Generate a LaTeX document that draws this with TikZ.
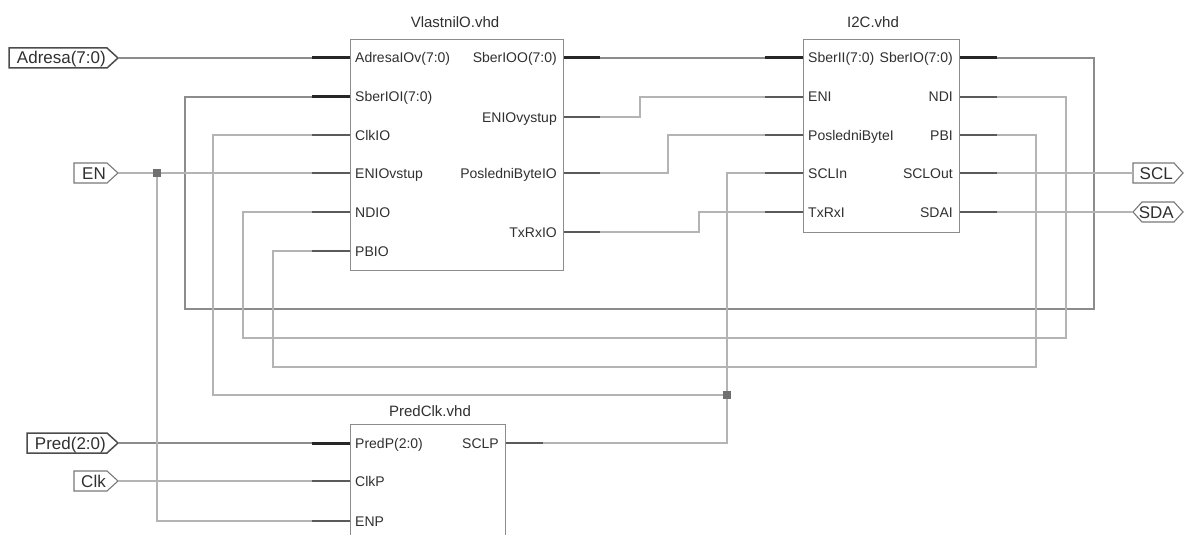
\documentclass[tikz,border=0pt]{standalone}
\usepackage{fontspec}
\setmainfont{Liberation Sans}
\definecolor{wirec}{HTML}{B4B4B4}
\definecolor{busc}{HTML}{8C8C8C}
\definecolor{stubc}{HTML}{5A5A5A}
\definecolor{blockc}{HTML}{8C8C8C}
\definecolor{txtc}{HTML}{303030}
\definecolor{juncc}{HTML}{707070}
\definecolor{portc}{HTML}{787878}
\tikzset{
  block/.style={draw=blockc, line width=1.2pt, fill=white, anchor=north west, inner sep=0pt},
  pinl/.style={font=\fontsize{14}{14}\selectfont, text=txtc, inner sep=0pt, anchor=base west},
  pinr/.style={font=\fontsize{14}{14}\selectfont, text=txtc, inner sep=0pt, anchor=base east},
  title/.style={font=\fontsize{15}{15}\selectfont, text=txtc, inner sep=0pt, anchor=base},
  porttxt/.style={font=\fontsize{17}{17}\selectfont, text=txtc, inner sep=0pt, anchor=base east},
  portline/.style={draw=portc, line width=1.1pt, line join=miter},
  busport/.style={draw=black!70, line width=1.5pt, line join=miter},
  wire/.style={draw=wirec, line width=1.1pt},
  bus/.style={draw=busc, line width=1.7pt},
  stub/.style={draw=stubc, line width=1.2pt},
  busstub/.style={draw=black!85, line width=3pt},
  junc/.style={rectangle, fill=juncc, minimum size=8pt, inner sep=0pt},
}
\begin{document}
\begin{tikzpicture}[x=1pt, y=-1pt]
\clip (0,0) rectangle (1184,535);
\fill[white] (0,0) rectangle (1184,535);

% ---------- blocks ----------
\node[block, minimum width=213pt, minimum height=231pt] (VIO) at (350,39) {};
\node[block, minimum width=156pt, minimum height=193pt] (I2C) at (803,39) {};
\node[block, minimum width=155pt, minimum height=140pt] (PRC) at (350,424) {};
\node[title] (tVIO) at (455,28) {VlastnilO.vhd};
\node[title] (tI2C) at (873,28) {I2C.vhd};
\node[title] (tPRC) at (430,416) {PredClk.vhd};

% ---------- pin coordinates (outer stub ends) ----------
\coordinate (a_adr) at (312,58);
\coordinate (a_sbi) at (312,97);
\coordinate (a_clk) at (312,135);
\coordinate (a_en)  at (312,173);
\coordinate (a_nd)  at (312,212);
\coordinate (a_pb)  at (312,251);
\coordinate (a_sbo) at (600,58);
\coordinate (a_env) at (600,117);
\coordinate (a_pos) at (600,173);
\coordinate (a_tx)  at (600,232);
\coordinate (b_sbi) at (765,58);
\coordinate (b_eni) at (765,97);
\coordinate (b_pos) at (765,135);
\coordinate (b_scl) at (765,173);
\coordinate (b_tx)  at (765,212);
\coordinate (b_sbo) at (997,58);
\coordinate (b_nd)  at (997,97);
\coordinate (b_pb)  at (997,135);
\coordinate (b_sclo) at (997,173);
\coordinate (b_sda) at (997,212);
\coordinate (c_pred) at (312,443);
\coordinate (c_clk) at (312,481);
\coordinate (c_en)  at (312,521);
\coordinate (c_sclp) at (543,443);

% ---------- ports ----------
\draw[busport] (9,48) -- (107,48) -- (118,58) -- (107,68) -- (9,68) -- cycle;
\coordinate (p_adr) at (118,58);
\node[porttxt] (t_adr) at (106,64) {Adresa(7:0)};
\draw[portline] (74,163) -- (107,163) -- (118,173) -- (107,183) -- (74,183) -- cycle;
\coordinate (p_en) at (118,173);
\node[porttxt] (t_en) at (106,179) {EN};
\draw[busport] (27,433) -- (107,433) -- (118,443) -- (107,453) -- (27,453) -- cycle;
\coordinate (p_pred) at (118,443);
\node[porttxt] (t_pred) at (106,449) {Pred(2:0)};
\draw[portline] (74,471) -- (107,471) -- (118,481) -- (107,491) -- (74,491) -- cycle;
\coordinate (p_clk) at (118,481);
\node[porttxt] (t_clk) at (106,487) {Clk};
\draw[portline] (1133,163) -- (1174,163) -- (1183,173) -- (1174,183) -- (1133,183) -- cycle;
\coordinate (p_scl) at (1133,173);
\node[porttxt] (t_scl) at (1173,179) {SCL};
\draw[portline] (1133,212) -- (1142,202) -- (1174,202) -- (1183,212) -- (1174,222) -- (1142,222) -- cycle;
\coordinate (p_sda) at (1133,212);
\node[porttxt] (t_sda) at (1174,218) {SDA};

% ---------- bend points ----------
\coordinate (sbR) at (1094,309);
\coordinate (sbL) at (185,97);
\coordinate (k1) at (640,97);
\coordinate (k2) at (668,135);
\coordinate (k3) at (699,212);
\coordinate (k4) at (213,135);
\coordinate (k5) at (1066,338);
\coordinate (k6) at (243,212);
\coordinate (k7) at (1036,367);
\coordinate (k8) at (273,251);

% ---------- wires ----------
\draw[bus] (p_adr) -- (a_adr);
\draw[bus] (a_sbo) -- (b_sbi);
\draw[bus] (b_sbo) -| (sbR) -| (sbL) -- (a_sbi);
\draw[bus] (p_pred) -- (c_pred);
\draw[wire] (a_env) -| (k1) -- (b_eni);
\draw[wire] (a_pos) -| (k2) -- (b_pos);
\draw[wire] (a_tx) -| (k3) -- (b_tx);
\draw[wire] (b_nd) -| (k5) -| (k6) -- (a_nd);
\draw[wire] (b_pb) -| (k7) -| (k8) -- (a_pb);
\draw[wire] (b_sclo) -- (p_scl);
\draw[wire] (b_sda) -- (p_sda);
\draw[wire] (p_clk) -- (c_clk);
\node[junc] (j1) at (157,173) {};
\node[junc] (j2) at (727,395) {};
\draw[wire] (p_en) -- (j1) -- (a_en);
\draw[wire] (j1) |- (c_en);
\draw[wire] (c_sclp) -| (j2) |- (b_scl);
\draw[wire] (j2) -| (k4) -- (a_clk);
\node[junc] at (j1) {};
\node[junc] at (j2) {};

% ---------- stubs ----------
\draw[busstub] (VIO.west |- a_adr) -- (a_adr);
\draw[busstub] (VIO.west |- a_sbi) -- (a_sbi);
\draw[stub] (VIO.west |- a_clk) -- (a_clk);
\draw[stub] (VIO.west |- a_en) -- (a_en);
\draw[stub] (VIO.west |- a_nd) -- (a_nd);
\draw[stub] (VIO.west |- a_pb) -- (a_pb);
\draw[busstub] (VIO.east |- a_sbo) -- (a_sbo);
\draw[stub] (VIO.east |- a_env) -- (a_env);
\draw[stub] (VIO.east |- a_pos) -- (a_pos);
\draw[stub] (VIO.east |- a_tx) -- (a_tx);
\draw[busstub] (I2C.west |- b_sbi) -- (b_sbi);
\draw[stub] (I2C.west |- b_eni) -- (b_eni);
\draw[stub] (I2C.west |- b_pos) -- (b_pos);
\draw[stub] (I2C.west |- b_scl) -- (b_scl);
\draw[stub] (I2C.west |- b_tx) -- (b_tx);
\draw[busstub] (I2C.east |- b_sbo) -- (b_sbo);
\draw[stub] (I2C.east |- b_nd) -- (b_nd);
\draw[stub] (I2C.east |- b_pb) -- (b_pb);
\draw[stub] (I2C.east |- b_sclo) -- (b_sclo);
\draw[stub] (I2C.east |- b_sda) -- (b_sda);
\draw[busstub] (PRC.west |- c_pred) -- (c_pred);
\draw[stub] (PRC.west |- c_clk) -- (c_clk);
\draw[stub] (PRC.west |- c_en) -- (c_en);
\draw[stub] (PRC.east |- c_sclp) -- (c_sclp);

% ---------- pin labels ----------
\node[pinl] (l1) at (355,63) {AdresaIOv(7:0)};
\node[pinl] (l2) at (355,102) {SberIOI(7:0)};
\node[pinl] (l3) at (355,140) {ClkIO};
\node[pinl] (l4) at (355,178) {ENIOvstup};
\node[pinl] (l5) at (355,217) {NDIO};
\node[pinl] (l6) at (355,256) {PBIO};
\node[pinr] (r1) at (557,63) {SberIOO(7:0)};
\node[pinr] (r2) at (557,122) {ENIOvystup};
\node[pinr] (r3) at (557,178) {PosledniByteIO};
\node[pinr] (r4) at (557,237) {TxRxIO};
\node[pinl] (l7) at (808,63) {SberII(7:0)};
\node[pinl] (l8) at (808,102) {ENI};
\node[pinl] (l9) at (808,140) {PosledniByteI};
\node[pinl] (l10) at (808,178) {SCLIn};
\node[pinl] (l11) at (808,217) {TxRxI};
\node[pinr] (r5) at (953,63) {SberIO(7:0)};
\node[pinr] (r6) at (953,102) {NDI};
\node[pinr] (r7) at (953,140) {PBI};
\node[pinr] (r8) at (953,178) {SCLOut};
\node[pinr] (r9) at (953,217) {SDAI};
\node[pinl] (l12) at (355,448) {PredP(2:0)};
\node[pinl] (l13) at (355,486) {ClkP};
\node[pinl] (l14) at (355,526) {ENP};
\node[pinr] (r10) at (499,448) {SCLP};
\end{tikzpicture}
\end{document}
